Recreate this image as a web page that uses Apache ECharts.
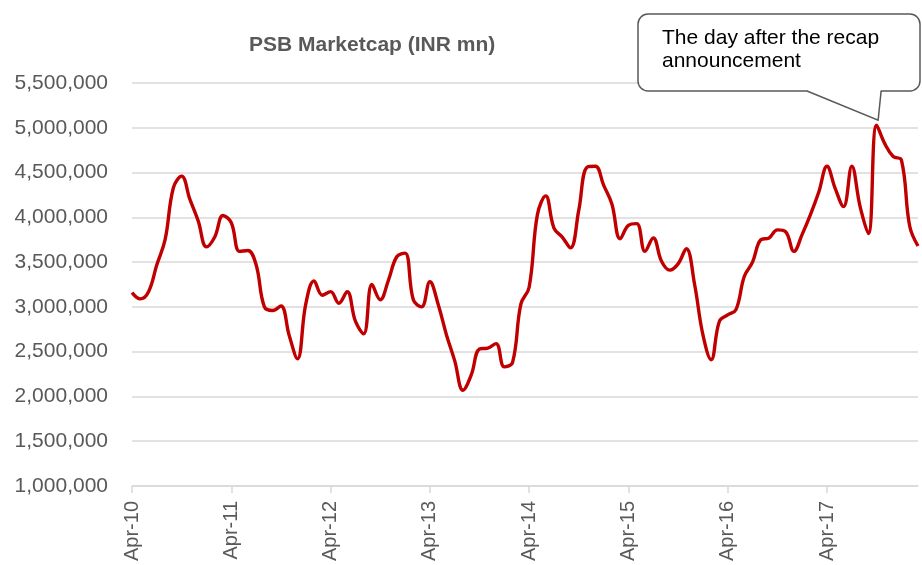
<!DOCTYPE html>
<html>
<head>
<meta charset="utf-8">
<title>PSB Marketcap</title>
<script src="https://cdn.jsdelivr.net/npm/echarts/dist/echarts.min.js"></script>
<style>
  html, body { margin: 0; padding: 0; background: #fff; }
  #chart { width: 922px; height: 565px; }
</style>
</head>
<body>
<div id="chart"></div>
<script>
// monthly points, Apr-10 .. Mar-18
var months = [
  'Apr-10','May-10','Jun-10','Jul-10','Aug-10','Sep-10','Oct-10','Nov-10','Dec-10','Jan-11','Feb-11','Mar-11',
  'Apr-11','May-11','Jun-11','Jul-11','Aug-11','Sep-11','Oct-11','Nov-11','Dec-11','Jan-12','Feb-12','Mar-12',
  'Apr-12','May-12','Jun-12','Jul-12','Aug-12','Sep-12','Oct-12','Nov-12','Dec-12','Jan-13','Feb-13','Mar-13',
  'Apr-13','May-13','Jun-13','Jul-13','Aug-13','Sep-13','Oct-13','Nov-13','Dec-13','Jan-14','Feb-14','Mar-14',
  'Apr-14','May-14','Jun-14','Jul-14','Aug-14','Sep-14','Oct-14','Nov-14','Dec-14','Jan-15','Feb-15','Mar-15',
  'Apr-15','May-15','Jun-15','Jul-15','Aug-15','Sep-15','Oct-15','Nov-15','Dec-15','Jan-16','Feb-16','Mar-16',
  'Apr-16','May-16','Jun-16','Jul-16','Aug-16','Sep-16','Oct-16','Nov-16','Dec-16','Jan-17','Feb-17','Mar-17',
  'Apr-17','May-17','Jun-17','Jul-17','Aug-17','Sep-17','Oct-17','Nov-17','Dec-17','Jan-18','Feb-18','Mar-18'
];

// PSB market cap, INR mn
var marketcap = [
  3160000, 3090000, 3170000, 3470000, 3750000, 4330000, 4460000, 4200000, 3960000, 3670000, 3780000, 4020000,
  3940000, 3620000, 3630000, 3470000, 3000000, 2960000, 3010000, 2680000, 2420000, 3030000, 3290000, 3130000,
  3170000, 3040000, 3170000, 2840000, 2700000, 3250000, 3080000, 3300000, 3560000, 3600000, 3080000, 3000000,
  3280000, 3030000, 2690000, 2400000, 2070000, 2240000, 2530000, 2540000, 2590000, 2330000, 2380000, 3030000,
  3220000, 4030000, 4240000, 3880000, 3780000, 3660000, 4080000, 4560000, 4570000, 4360000, 4150000, 3760000,
  3910000, 3930000, 3620000, 3770000, 3510000, 3410000, 3480000, 3650000, 3250000, 2690000, 2410000, 2840000,
  2910000, 2970000, 3340000, 3500000, 3750000, 3770000, 3860000, 3840000, 3620000, 3810000, 4030000, 4280000,
  4570000, 4320000, 4120000, 4570000, 4120000, 3820000, 5030000, 4820000, 4680000, 4640000, 3900000, 3680000
];

var titleText = 'PSB Marketcap (INR mn)';
var calloutText = 'The day after the recap\nannouncement';
var calloutIdx = 90; // Oct-17

var gray = '#595959';
var gridGray = '#d9d9d9';
var font = '"Liberation Sans", Arial, sans-serif';

var fmt = function (v) {
  return v.toLocaleString('en-US');
};

var dom = document.getElementById('chart');
var myChart = echarts.init(dom, null, { renderer: 'canvas' });

var option = {
  animation: false,
  backgroundColor: '#fff',
  textStyle: { fontFamily: font },
  title: {
    text: titleText,
    left: 244,
    top: 30,
    textStyle: { fontFamily: font, fontSize: 21, fontWeight: 'bold', color: gray }
  },
  grid: { left: 132, right: 4, top: 83, bottom: 79 },
  xAxis: {
    type: 'category',
    data: months,
    boundaryGap: false,
    axisLine: { lineStyle: { color: gridGray, width: 1.5 } },
    axisTick: { show: true, interval: 11, length: 7, lineStyle: { color: gridGray, width: 1.5 } },
    axisLabel: { interval: 11, rotate: 90, margin: 15, color: gray, fontSize: 20, fontFamily: font },
    splitLine: { show: false }
  },
  yAxis: {
    type: 'value',
    min: 1000000,
    max: 5500000,
    interval: 500000,
    axisLine: { show: false },
    axisTick: { show: false },
    axisLabel: { color: gray, fontSize: 21, fontFamily: font, margin: 24, formatter: fmt },
    splitLine: { lineStyle: { color: gridGray, width: 1.5 } }
  },
  series: [{
    type: 'line',
    data: marketcap,
    smooth: 0.4,
    symbol: 'none',
    lineStyle: { color: '#c00000', width: 3.4 },
    z: 3
  }]
};

myChart.setOption(option);

// callout box pointing at the spike
var tip = myChart.convertToPixel({ gridIndex: 0 }, [calloutIdx, marketcap[calloutIdx]]);
var tx = tip[0] + 1.5, ty = tip[1] - 5;
var box = { x: 638, y: 14, width: 282, height: 77 };
var baseY = box.y + box.height;
var tailL = 807;
var tailR = tx + 3;

myChart.setOption({
  graphic: [
    {
      type: 'rect',
      shape: { x: box.x, y: box.y, width: box.width, height: box.height, r: 10 },
      style: { fill: '#fff', stroke: gray, lineWidth: 1.5 },
      z: 10
    },
    {
      // hides the border under the tail
      type: 'polygon',
      shape: { points: [[tailL + 0.5, baseY - 2], [tailL + 0.5, baseY + 1], [tx, ty], [tailR - 0.5, baseY + 1], [tailR - 0.5, baseY - 2]] },
      style: { fill: '#fff', stroke: null },
      z: 11
    },
    {
      type: 'polyline',
      shape: { points: [[tailL, baseY], [tx, ty], [tailR, baseY]] },
      style: { stroke: gray, lineWidth: 1.5, fill: null },
      z: 12
    },
    {
      type: 'text',
      left: 662,
      top: 27,
      style: { text: calloutText, font: '21px ' + font, fill: '#000', lineHeight: 23 },
      z: 13
    }
  ]
});
</script>
</body>
</html>
